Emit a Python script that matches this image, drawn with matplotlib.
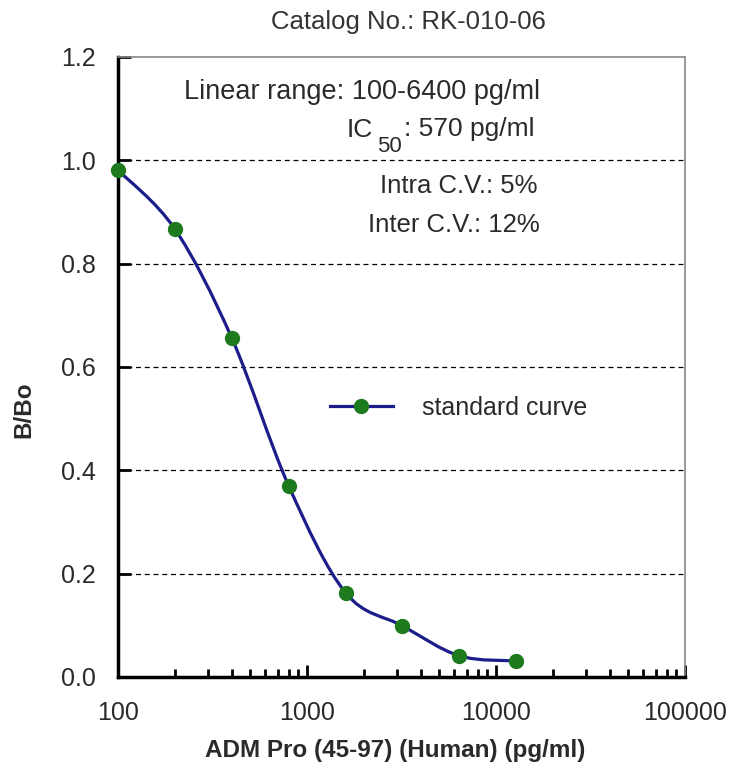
import numpy as np
import matplotlib.pyplot as plt
from matplotlib.path import Path
from matplotlib.patches import PathPatch
from matplotlib.lines import Line2D
from matplotlib.ticker import LogLocator, FixedLocator, NullFormatter

plt.rcParams['font.family'] = ['Liberation Sans', 'DejaVu Sans']

# data
conc = [100, 200, 400, 800, 1600, 3200, 6400, 12800]
bbo = [0.981, 0.867, 0.656, 0.370, 0.163, 0.099, 0.041, 0.031]
yticks = [0.0, 0.2, 0.4, 0.6, 0.8, 1.0, 1.2]
xticks = [100, 1000, 10000, 100000]
notes = ["Linear range: 100-6400 pg/ml", "Intra C.V.: 5%", "Inter C.V.: 12%"]

line_col = '#1c1c8a'
dot_col = '#1d7a1d'
txt_col = '#2a2a2a'
W, H = 729., 773.

fig = plt.figure(figsize=(7.29, 7.73), dpi=100)
ax = fig.add_axes([118 / W, 1 - 677 / H, 567 / W, 620 / H])
ax.set_xscale('log')
ax.set_xlim(100, 100000)
ax.set_ylim(0, 1.2)

# smooth curve (Excel-like), bezier in log-x space
lx = np.log10(conc)
yy = np.array(bbo)
verts = [(conc[0], bbo[0])]
codes = [Path.MOVETO]
n = len(lx)
for i in range(n - 1):
    p0 = (lx[max(i - 1, 0)], yy[max(i - 1, 0)])
    p1 = (lx[i], yy[i])
    p2 = (lx[i + 1], yy[i + 1])
    p3 = (lx[min(i + 2, n - 1)], yy[min(i + 2, n - 1)])
    t = 1 / 6.
    c1 = (p1[0] + (p2[0] - p0[0]) * t, p1[1] + (p2[1] - p0[1]) * t)
    c2 = (p2[0] - (p3[0] - p1[0]) * t, p2[1] - (p3[1] - p1[1]) * t)
    for c in (c1, c2, p2):
        verts.append((10 ** c[0], c[1]))
        codes.append(Path.CURVE4)
ax.add_patch(PathPatch(Path(verts, codes), facecolor='none', edgecolor=line_col,
                       lw=2.3, zorder=3, clip_on=False))
ax.plot(conc, bbo, ls='none', marker='o', ms=10, color=dot_col, zorder=4, clip_on=False)

# grid
for v in yticks[1:-1]:
    ax.axhline(v, color='black', ls=(0, (4, 3)), lw=0.9, zorder=1)

for s in ['top', 'right']:
    ax.spines[s].set_color('#888888')
    ax.spines[s].set_linewidth(1.2)
for s in ['left', 'bottom']:
    ax.spines[s].set_linewidth(2.5)

ax.yaxis.set_major_locator(FixedLocator(yticks))
ax.set_yticklabels(['%.1f' % v for v in yticks])
ax.xaxis.set_major_locator(FixedLocator(xticks))
ax.xaxis.set_minor_locator(LogLocator(base=10, subs=np.arange(2, 10)))
ax.xaxis.set_minor_formatter(NullFormatter())
ax.set_xticklabels([str(v) for v in xticks])
ax.tick_params(axis='both', which='major', direction='in', length=9, width=2,
               labelsize=18, colors='black', labelcolor=txt_col)
ax.tick_params(axis='x', which='minor', direction='in', length=6, width=2)
ax.tick_params(axis='x', pad=17)
ax.tick_params(axis='y', pad=16)

fig.text(395 / W, 1 - 750 / H, 'ADM Pro (45-97) (Human) (pg/ml)', ha='center',
         va='center', fontsize=17.5, fontweight='bold', color=txt_col)
fig.text(24 / W, 1 - 410 / H, 'B/Bo', rotation=90, ha='center', va='center',
         fontsize=17.5, fontweight='bold', color=txt_col)

fig.text(408 / W, 1 - 22 / H, 'Catalog No.: RK-010-06', ha='center', va='center',
         fontsize=18.5, color='#333333')

fig.text(540 / W, 1 - 92 / H, notes[0], ha='right', va='center', fontsize=19.5,
         color=txt_col)
# IC50 line with subscript
fig.text(347 / W, 1 - 130 / H, 'IC', ha='left', va='center', fontsize=19, color=txt_col)
fig.text(377 / W, 1 - 146 / H, '50', ha='left', va='center', fontsize=16, color=txt_col)
fig.text(535 / W, 1 - 129 / H, ': 570 pg/ml', ha='right', va='center', fontsize=19,
         color=txt_col)
fig.text(538 / W, 1 - 186 / H, notes[1], ha='right', va='center', fontsize=18.5,
         color=txt_col)
fig.text(540 / W, 1 - 225 / H, notes[2], ha='right', va='center', fontsize=18.5,
         color=txt_col)

h = Line2D([], [], color=line_col, lw=2.3, marker='o', ms=10, mfc=dot_col, mec=dot_col)
ax.legend([h], ['standard curve'], loc='center left',
          bbox_to_anchor=(330 / W, 1 - 408 / H), bbox_transform=fig.transFigure,
          frameon=False, fontsize=18, handlelength=2.5, handletextpad=1.2,
          borderpad=0, borderaxespad=0, labelcolor=txt_col)

fig.savefig('out.png', dpi=100)
